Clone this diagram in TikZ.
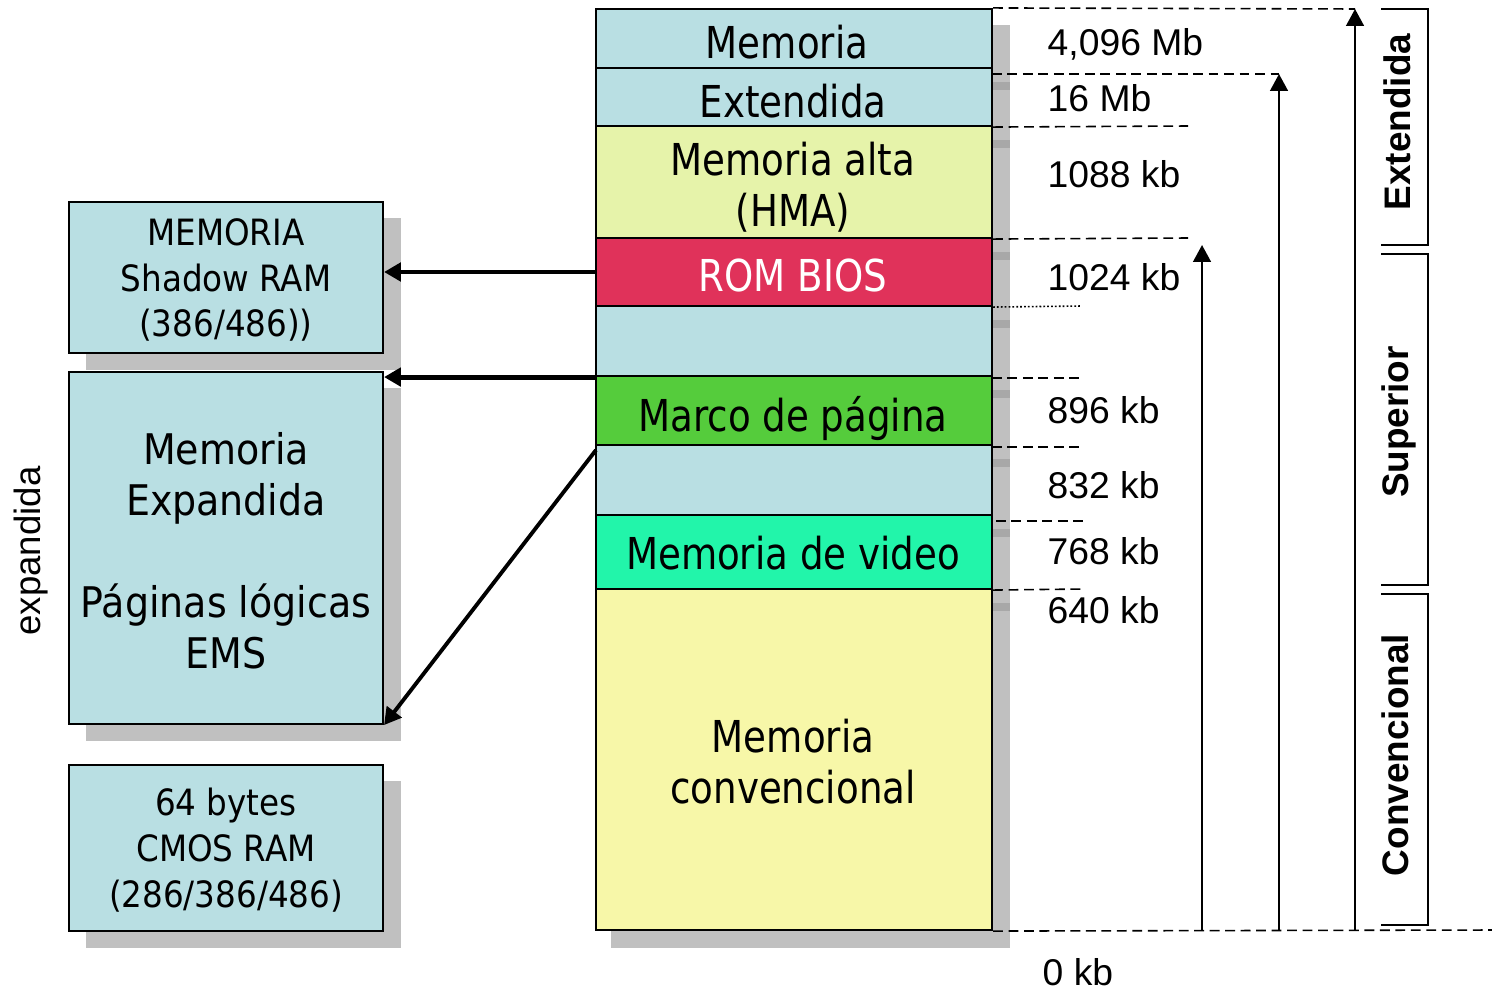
\documentclass[tikz,border=0pt]{standalone}
\usepackage{fontspec}
\setmainfont{DejaVu Sans Condensed}
\newfontfamily\bigf{DejaVu Sans Condensed}[FakeStretch=0.94]
\newfontfamily\arialf{Liberation Sans}
\usetikzlibrary{arrows.meta,fit}
\definecolor{lblue}{RGB}{185,223,227}
\definecolor{hmacol}{RGB}{230,243,170}
\definecolor{romcol}{RGB}{224,50,90}
\definecolor{marcocol}{RGB}{85,204,60}
\definecolor{videocol}{RGB}{34,245,170}
\definecolor{convcol}{RGB}{247,247,168}
\definecolor{shadowgray}{RGB}{192,192,192}
\definecolor{darkshadow}{RGB}{168,168,168}
\tikzset{
  blk/.style={draw=black, line width=0.6pt, inner sep=0pt},
  bigtxt/.style={font=\bigf\fontsize{12.5}{14.5}\selectfont, align=center, inner sep=0pt},
  boxtxt/.style={font=\fontsize{12}{14.5}\selectfont, align=center, inner sep=0pt},
  smalltxt/.style={font=\fontsize{10.3}{13}\selectfont, align=center, inner sep=0pt},
  numtxt/.style={font=\arialf\fontsize{10.6}{12}\selectfont, anchor=base west, inner sep=0pt},
  sidetxt/.style={font=\arialf\bfseries\fontsize{10.5}{12}\selectfont, rotate=90, anchor=base, inner sep=0pt},
  exptxt/.style={font=\arialf\fontsize{10.4}{12}\selectfont, rotate=90, anchor=base, inner sep=0pt},
  dline/.style={dash pattern=on 2.8pt off 1.6pt, line width=0.45pt},
  dotline/.style={dash pattern=on 0.5pt off 0.6pt, line width=0.45pt},
  thickarrow/.style={line width=1.4pt, -{Triangle[width=5.2pt,length=4.8pt]}},
  diagarrow/.style={line width=1.1pt, -{Triangle[width=5.2pt,length=4.8pt]}},
  varrow/.style={line width=0.7pt, -{Triangle[width=5pt,length=4.8pt]}},
  brk/.style={line width=0.7pt},
}
\begin{document}
\begin{tikzpicture}[x=0.01cm,y=-0.01cm]
\useasboundingbox (0,0) rectangle (1492,991);
% shadows
\fill[shadowgray] (611,25) rectangle (1010,948);
\foreach \yy in {86,144,256,324,394,463,533,607}
  \fill[darkshadow] (992,\yy-4) rectangle (1010,\yy+4);
\fill[shadowgray] (86,218) rectangle (401,370);
\fill[shadowgray] (86,388) rectangle (401,741);
\fill[shadowgray] (86,781) rectangle (401,948);
% main column
\node[blk, fill=lblue,    fit={(596,9)(992,68)}]    (m1)   {};
\node[blk, fill=lblue,    fit={(596,68)(992,126)}]  (m2)   {};
\node[blk, fill=hmacol,   fit={(596,126)(992,238)}] (hma)  {};
\node[blk, fill=romcol,   fit={(596,238)(992,306)}] (rom)  {};
\node[blk, fill=lblue,    fit={(596,306)(992,376)}] (b1)   {};
\node[blk, fill=marcocol, fit={(596,376)(992,445)}] (mp)   {};
\node[blk, fill=lblue,    fit={(596,445)(992,515)}] (b2)   {};
\node[blk, fill=videocol, fit={(596,515)(992,589)}] (vid)  {};
\node[blk, fill=convcol,  fit={(596,589)(992,930)}] (conv) {};
\node[bigtxt, anchor=base] (t1) at (787,59) {Memoria};
\node[bigtxt, anchor=base] (t2) at (793,117) {Extendida};
\node[bigtxt] (t3) at (793,187) {Memoria alta\\(HMA)};
\node[bigtxt, anchor=base, text=white] (t4) at (793,291) {ROM BIOS};
\node[bigtxt, anchor=base] (t5) at (793,431) {Marco de página};
\node[bigtxt, anchor=base] (t6) at (793,569) {Memoria de video};
\node[bigtxt] (t7) at (793,762) {Memoria\\convencional};
% left boxes
\node[blk, fill=lblue, fit={(69,202)(383,353)}] (sm) {};
\node[blk, fill=lblue, fit={(69,372)(383,724)}] (em) {};
\node[blk, fill=lblue, fit={(69,765)(383,931)}] (cm) {};
\node[smalltxt] (smt) at (226,280) {MEMORIA\\Shadow RAM\\(386/486))};
\node[boxtxt] (emt) at (226,551) {Memoria\\Expandida\\~\\Páginas lógicas\\EMS};
\node[smalltxt] (cmt) at (226,850) {64 bytes\\CMOS RAM\\(286/386/486)};
\node[exptxt] (exp) at (40,551) {expandida};
% arrows to left boxes
\draw[thickarrow] (rom.west) -- (rom.west -| sm.east);
\draw[thickarrow] (b1.south west) -- (b1.south west -| em.east);
\coordinate (dstart) at (596,450);
\draw[diagarrow] (dstart) -- (em.south east);
% right side coordinates
\coordinate (va1b) at (1202,930); \coordinate (va1t) at (1202,245);
\coordinate (va2b) at (1279,930); \coordinate (va2t) at (1279,74);
\coordinate (va3b) at (1355,930); \coordinate (va3t) at (1355,9);
\coordinate (d16) at (992,74);
\coordinate (e126) at (1188,126);
\coordinate (e238) at (1188,238);
\coordinate (e306) at (1082,306);
\coordinate (e378) at (1083,378); \coordinate (s378) at (992,378);
\coordinate (e447) at (1083,447); \coordinate (s447) at (992,447);
\coordinate (s521) at (996,521); \coordinate (e521) at (1087,521);
\coordinate (e589) at (1083,589);
\coordinate (eend) at (1492,930);
% dashed lines
\draw[dline] (m1.north east) -- (va3t);
\draw[dline] (d16) -- (va2t);
\draw[dline] (m2.south east) -- (e126);
\draw[dline] (hma.south east) -- (e238);
\draw[dotline] (rom.south east) -- (e306);
\draw[dline] (s378) -- (e378);
\draw[dline] (s447) -- (e447);
\draw[dline] (s521) -- (e521);
\draw[dline] (vid.south east) -- (e589);
\draw[dline] (conv.south east) -- (eend);
% vertical arrows
\draw[varrow] (va1b) -- (va1t);
\draw[varrow] (va2b) -- (va2t);
\draw[varrow] (va3b) -- (va3t);
% brackets
\draw[brk] (1381,9) -- (1428,9) -- (1428,245) -- (1381,245);
\draw[brk] (1381,254) -- (1428,254) -- (1428,585) -- (1381,585);
\draw[brk] (1381,594) -- (1428,594) -- (1428,925) -- (1381,925);
\node[sidetxt] (lext) at (1410,122) {Extendida};
\node[sidetxt] (lsup) at (1408,422) {Superior};
\node[sidetxt] (lcon) at (1408,755) {Convencional};
% size labels
\node[numtxt] (n1) at (1047,56) {4,096 Mb};
\node[numtxt] (n2) at (1047,112) {16 Mb};
\node[numtxt] (n3) at (1047,187) {1088 kb};
\node[numtxt] (n4) at (1047,290) {1024 kb};
\node[numtxt] (n5) at (1047,423) {896 kb};
\node[numtxt] (n6) at (1047,498) {832 kb};
\node[numtxt] (n7) at (1047,564) {768 kb};
\node[numtxt] (n8) at (1047,623) {640 kb};
\node[numtxt] (n9) at (1042,985) {0 kb};
\end{tikzpicture}
\end{document}
